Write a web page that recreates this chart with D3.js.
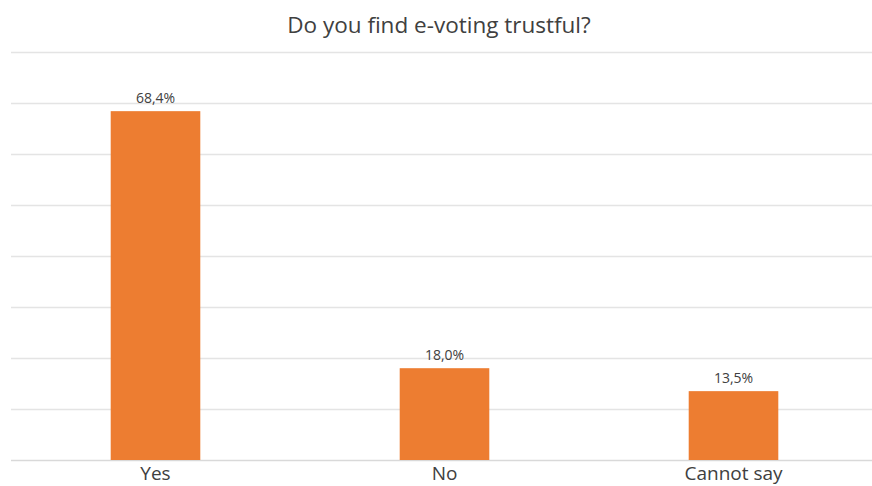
<!DOCTYPE html>
<html>
<head>
<meta charset="utf-8">
<script src="https://cdn.jsdelivr.net/npm/d3@7"></script>
<style>
  html, body { margin: 0; padding: 0; background: #ffffff; }
  svg { display: block; }
  text { font-family: "Open Sans", Lato, sans-serif; fill: #404040; }
</style>
</head>
<body>
<svg id="chart" width="872" height="486"></svg>
<script>
// Survey answers (percent)
const categories = ["Yes", "No", "Cannot say"];
const values = [68.4, 18.0, 13.5];
const valueLabels = ["68,4%", "18,0%", "13,5%"];
const gridTicks = [0, 10, 20, 30, 40, 50, 60, 70, 80];
const title = "Do you find e-voting trustful?";

const width = 872, height = 486;
const margin = { top: 52, right: -6, bottom: 26, left: 11 };

const svg = d3.select("#chart");

const x = d3.scaleBand()
  .domain(categories)
  .range([margin.left, width - margin.right])
  .paddingInner(0.69)
  .paddingOuter(0.345);

const y = d3.scaleLinear()
  .domain([0, 80])
  .range([height - margin.bottom, margin.top]);

// horizontal gridlines
svg.append("g")
  .selectAll("line")
  .data(gridTicks)
  .join("line")
  .attr("x1", margin.left)
  .attr("x2", width)
  .attr("y1", d => Math.round(y(d)) + 0.5)
  .attr("y2", d => Math.round(y(d)) + 0.5)
  .attr("stroke", d => d === 0 ? "#d9d9d9" : "#e4e4e4")
  .attr("stroke-width", 1.3);

// bars
svg.append("g")
  .selectAll("rect")
  .data(categories)
  .join("rect")
  .attr("x", d => x(d))
  .attr("width", x.bandwidth())
  .attr("y", (d, i) => y(values[i]))
  .attr("height", (d, i) => y(0) - y(values[i]))
  .attr("fill", "#ed7d31");

// value labels
svg.append("g")
  .selectAll("text")
  .data(categories)
  .join("text")
  .attr("x", d => x(d) + x.bandwidth() / 2)
  .attr("y", (d, i) => y(values[i]) - 8)
  .attr("text-anchor", "middle")
  .attr("font-size", 14)
  .text((d, i) => valueLabels[i]);

// category axis labels
const xAxis = d3.axisBottom(x).tickSize(0).tickPadding(6);
const gx = svg.append("g")
  .attr("transform", `translate(0,${y(0)})`)
  .call(xAxis);
gx.select(".domain").remove();
gx.selectAll("text")
  .attr("font-size", 19)
  .attr("fill", "#404040")
  .style("font-family", "'Open Sans', Lato, sans-serif");

// title
svg.append("text")
  .attr("x", 439)
  .attr("y", 33)
  .attr("text-anchor", "middle")
  .attr("font-size", 22.5)
  .text(title);
</script>
</body>
</html>
